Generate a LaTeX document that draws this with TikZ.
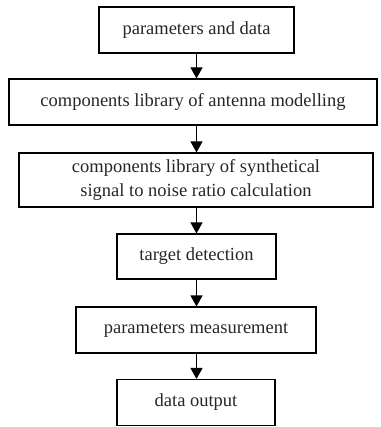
\documentclass[tikz,border=0pt]{standalone}
\usepackage{fontspec}
\setmainfont{Liberation Serif}
\usetikzlibrary{arrows.meta}
\begin{document}
\begin{tikzpicture}[x=1pt,y=-1pt,
  box/.style={draw, line width=1.1pt, inner sep=0pt, align=center,
    font=\fontsize{18.5}{24.5}\selectfont, text=black!85},
  arr/.style={-{Triangle[length=11pt,width=12pt]}, line width=1.1pt}]
\useasboundingbox (0,0) rectangle (380,427);
\node[box, minimum width=195pt, minimum height=46pt] (b1) at (196.5,30) {parameters and data};
\node[box, minimum width=368pt, minimum height=46pt] (b2) at (193,102) {components library of antenna modelling};
\node[box, minimum width=354pt, minimum height=54pt] (b3) at (196,180) {components library of synthetical\\signal to noise ratio calculation};
\node[box, minimum width=159pt, minimum height=45pt] (b4) at (196.5,256.5) {target detection};
\node[box, minimum width=240pt, minimum height=46pt] (b5) at (196,330) {parameters measurement};
\node[box, minimum width=158pt, minimum height=46pt] (b6) at (196,402.5) {data output};
\draw[arr] (b1.south) -- (b1.south |- b2.north);
\draw[arr] (b1.south |- b2.south) -- (b1.south |- b3.north);
\draw[arr] (b1.south |- b3.south) -- (b1.south |- b4.north);
\draw[arr] (b4.south) -- (b4.south |- b5.north);
\draw[arr] (b4.south |- b5.south) -- (b4.south |- b6.north);
\end{tikzpicture}
\end{document}
